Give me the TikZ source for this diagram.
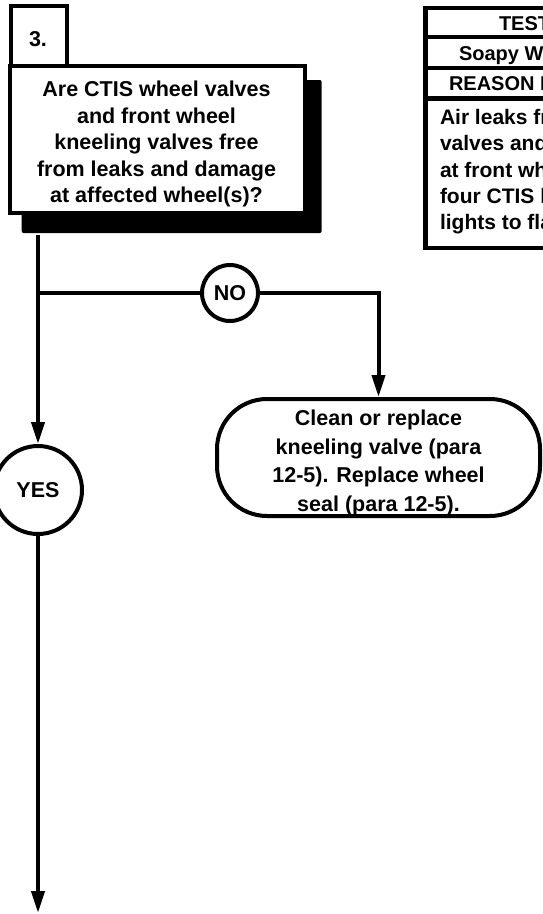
\documentclass[tikz,border=0pt]{standalone}
\usepackage{fontspec}
\setmainfont{Liberation Sans}
\usetikzlibrary{arrows.meta}
\begin{document}
\begin{tikzpicture}[x=1pt,y=-1pt,line width=4pt,
  txt/.style={font=\bfseries\fontsize{21.5}{26.5}\selectfont,inner sep=0pt,align=center},
  tbltxt/.style={font=\bfseries\fontsize{20}{26.2}\selectfont,inner sep=0pt,align=left},
  box/.style={draw,fill=white,inner sep=0pt},
  tblrow/.style={draw,line width=4.5pt,inner sep=0pt,minimum width=320pt,anchor=north west},
  arr/.style={-{Triangle[length=22pt,width=13pt]}},
  ans/.style={draw,fill=white,circle,inner sep=0pt,font=\bfseries\fontsize{21.5}{26}\selectfont}]
\useasboundingbox (0,0) rectangle (543,914);
\clip (0,0) rectangle (543,914);
% question box
\node[fill=black,rounded corners=2pt,minimum width=300pt,minimum height=153pt,inner sep=0pt] (shadow) at (171.7,156.5) {};
\node[box,minimum width=295.5pt,minimum height=147pt] (q) at (157.25,139) {};
\node[box,minimum width=56pt,minimum height=60pt] (num) at (39,35.5) {};
\node[txt] (numtxt) at (38,39.5) {3.};
\node[txt] (qtxt) at (156.5,144) {Are CTIS wheel valves\\and front wheel\\kneeling valves free\\from leaks and damage\\at affected wheel(s)?};
% table
\node[tblrow,minimum height=29pt] (r1) at (423,5.5) {};
\node[tblrow,minimum height=31pt] (r2) at (423,34.5) {};
\node[tblrow,minimum height=30.5pt] (r3) at (423,65.5) {};
\node[tblrow,minimum height=149.5pt] (r4) at (423,96) {};
\node[tbltxt,anchor=base west] (t1) at (497,30) {TEST};
\node[tbltxt,anchor=base west] (t2) at (457,60) {Soapy W};
\node[tbltxt,anchor=base west] (t3) at (447,90) {REASON F};
\node[tbltxt,font=\bfseries\fontsize{21}{26.2}\selectfont,anchor=north west] (t4) at (438,107.5) {Air leaks fr\\valves and\\at front wh\\four CTIS l\\lights to fla};
% answers
\coordinate (br) at (38,293);
\node[ans,minimum size=56pt] (no) at (230,293) {NO};
\node[ans,minimum size=88pt] (yes) at (38,490) {YES};
\node[box,rounded corners=50pt,minimum width=323pt,minimum height=117pt] (fix) at (378.5,457.5) {};
\node[txt] (fixtxt) at (378.5,463) {Clean or replace\\[2pt]kneeling valve (para\\[2pt]12-5). Replace wheel\\[2pt]seal (para 12-5).};
\coordinate (end) at (38,913);
% connectors
\draw (shadow.south -| br) -- (br);
\draw[arr] (br) -- (yes.north);
\draw (br) -- (no.west);
\draw[arr] (no.east) -| (fix.north);
\draw[arr] (yes.south) -- (end);
\end{tikzpicture}
\end{document}
